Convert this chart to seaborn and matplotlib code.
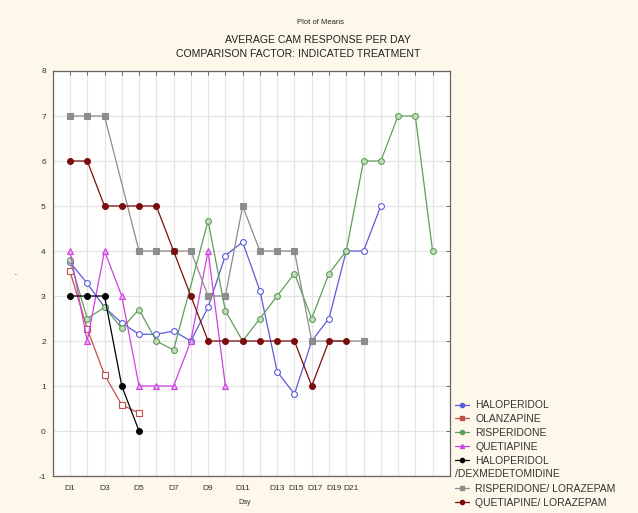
import numpy as np
import pandas as pd
import matplotlib
matplotlib.use("Agg")
import matplotlib.pyplot as plt
import seaborn as sns
from matplotlib.lines import Line2D

nan = np.nan

# Day index (D1..D22)
days = list(range(1, 23))

haloperidol = [3.75, 3.28, 2.75, 2.4, 2.15, 2.15, 2.22, 2.0, 2.75, 3.9, 4.2, 3.12,
               1.32, 0.82, 2.0, 2.5, 4.0, 4.0, 5.0, nan, nan, nan]
olanzapine = [3.55, 2.27, 1.25, 0.58, 0.4] + [nan] * 17
risperidone = [3.8, 2.5, 2.75, 2.28, 2.7, 2.0, 1.8, nan, 4.67, 2.67, 2.0, 2.5,
               3.0, 3.5, 2.5, 3.5, 4.0, 6.0, 6.0, 7.0, 7.0, 4.0]
quetiapine = [4, 2, 4, 3, 1, 1, 1, 2, 4, 1] + [nan] * 12
halo_dex = [3, 3, 3, 1, 0] + [nan] * 17
risp_loraz = [7, 7, 7, nan, 4, 4, 4, 4, 3, 3, 5, 4, 4, 4, 2, nan, nan, 2] + [nan] * 4
quet_loraz = [6, 6, 5, 5, 5, 5, 4, 3, 2, 2, 2, 2, 2, 2, 1, 2, 2] + [nan] * 5

# the day labels sit unevenly on the original axis
tick_pos = [1, 3, 5, 7, 9, 11, 13, 14.1, 15.2, 16.3, 17.3]
tick_labels = ["D1", "D3", "D5", "D7", "D9", "D11", "D13", "D15", "D17", "D19", "D21"]

series = [
    ("HALOPERIDOL", haloperidol, "#5b5bdc", "o", "white"),
    ("OLANZAPINE", olanzapine, "#c0504d", "s", "white"),
    ("RISPERIDONE", risperidone, "#5f9e5a", "o", "#c4dcbc"),
    ("QUETIAPINE", quetiapine, "#cc44dd", "^", "#e6a6f0"),
    ("HALOPERIDOL/DEX", halo_dex, "black", "o", "black"),
    ("RISPERIDONE/ LORAZEPAM", risp_loraz, "#8c8c8c", "s", "#8c8c8c"),
    ("QUETIAPINE/ LORAZEPAM", quet_loraz, "#7a0c0c", "o", "#7a0c0c"),
]

sns.set_style("white")
plt.rcParams['font.family'] = ['Liberation Sans', 'DejaVu Sans']
plt.rcParams['axes.unicode_minus'] = False

fig = plt.figure(figsize=(6.38, 5.13), dpi=100)
fig.patch.set_facecolor("#fdf8ea")
ax = fig.add_axes([0.0826, 0.0721, 0.6225, 0.7895])
ax.set_facecolor("white")

for name, vals, color, marker, face in series:
    df = pd.DataFrame({"day": days, "value": vals}).dropna()
    sns.lineplot(data=df, x="day", y="value", ax=ax, color=color, marker=marker,
                 markersize=4.2, markerfacecolor=face, markeredgecolor=color,
                 markeredgewidth=0.8, linewidth=0.9, legend=False)

ax.set_xlim(0, 23)
ax.set_ylim(-1, 8)
ax.set_xticks(range(0, 24))
ax.set_xticklabels([])
for p, lab in zip(tick_pos, tick_labels):
    ax.text(p, -0.032, lab, transform=ax.get_xaxis_transform(), ha="center",
            va="center", fontsize=6, color="#333333")
ax.set_yticks(range(-1, 9))
ax.tick_params(axis="both", which="major", direction="in", length=3, width=0.6,
               top=True, right=True, color="#555555", labelsize=6)
ax.tick_params(axis="y", labelcolor="#333333", pad=5)
ax.grid(True, which="major", color="#e4e4e4", linewidth=0.9)
ax.set_axisbelow(True)
for sp in ax.spines.values():
    sp.set_color("#666666")
    sp.set_linewidth(0.9)

ax.set_xlabel("")
ax.set_ylabel("'", fontsize=5, color="#333333", labelpad=12)
fig.text(245 / 638, 1 - 503 / 513, "Day", ha="center", va="center",
         fontsize=5, color="#333333")

fig.text(0.503, 1 - 22 / 513, "Plot of Means", ha="center", va="center",
         fontsize=5.5, color="#222222")
fig.text(0.498, 1 - 40 / 513, "AVERAGE CAM RESPONSE PER DAY", ha="center",
         va="center", fontsize=7.6, color="#222222")
fig.text(0.467, 1 - 54 / 513, "COMPARISON FACTOR: INDICATED TREATMENT",
         ha="center", va="center", fontsize=7.6, color="#222222")

# legend built by hand so the wrapped label can sit left like the original
handles = []
labels = []
for name, vals, color, marker, face in series:
    handles.append(Line2D([], [], color=color, marker=marker, markersize=3,
                          markerfacecolor=color, markeredgecolor=color, linewidth=0.9))
    labels.append("HALOPERIDOL" if name == "HALOPERIDOL/DEX" else name)
    if name == "HALOPERIDOL/DEX":
        handles.append(Line2D([], [], linestyle="none"))
        labels.append("X")
leg = fig.legend(handles, labels, loc="upper left", bbox_to_anchor=(0.707, 1 - 396 / 513),
                 frameon=False, fontsize=7.5, handlelength=1.3, handletextpad=0.6,
                 labelspacing=0.38, borderaxespad=0)
for t in leg.get_texts():
    t.set_color("#333333")
leg.get_texts()[5].set_alpha(0)
fig.text(455 / 638, 1 - 474 / 513, "/DEXMEDETOMIDINE", ha="left", va="center",
         fontsize=7.5, color="#333333")

fig.savefig("out.png", dpi=100, facecolor=fig.get_facecolor())
